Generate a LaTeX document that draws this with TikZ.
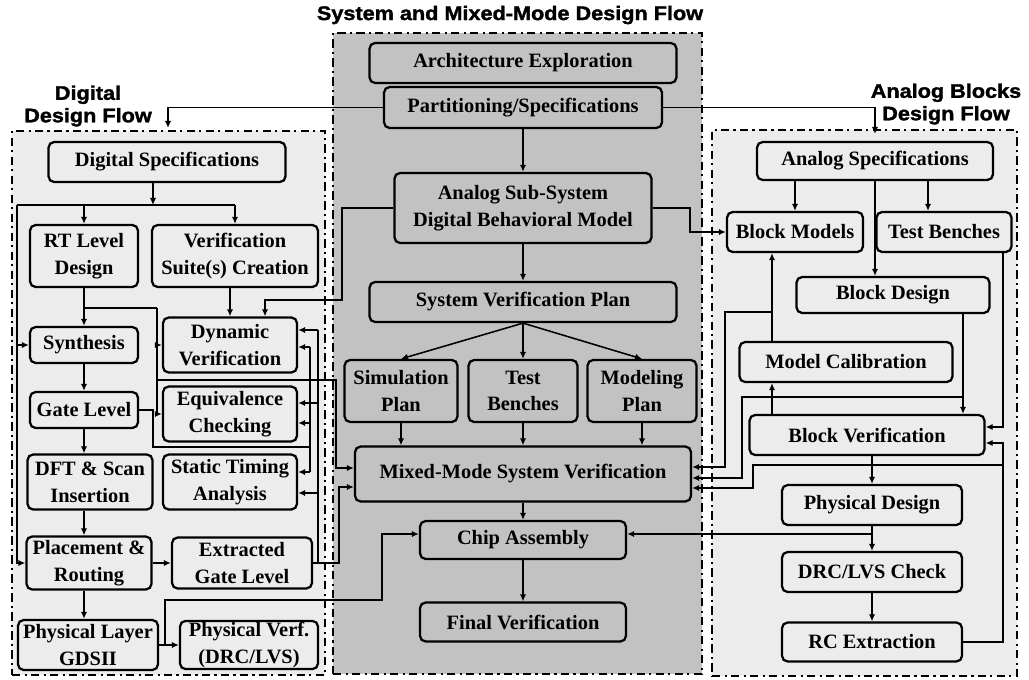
\documentclass[tikz,border=0pt]{standalone}
\usepackage{fontspec}
\setmainfont{Liberation Serif}
\newfontfamily\titlefont{Liberation Sans}[FakeStretch=1.1, BoldFeatures={FakeBold=1.6}]
\usetikzlibrary{arrows.meta, positioning, calc}
\definecolor{PanelDark}{HTML}{C2C2C2}
\definecolor{PanelLight}{HTML}{ECECEC}
\tikzset{
    box/.style={
        draw=black,
        fill=#1,
        line width=1.6pt,
        rounded corners=4pt,
        text=black,
        font=\fontsize{14.5}{19}\selectfont\bfseries,
        align=center,
        inner sep=1pt
    },
    box/.default=PanelLight,
    panel/.style={
        draw=black,
        fill=#1,
        line width=1.8pt,
        dash pattern=on 6pt off 3pt on 1.5pt off 3pt,
        inner sep=0pt
    },
    panel/.default=PanelLight,
    arrow/.style={
        -{Latex[length=5pt,width=4.5pt]},
        line width=1.1pt,
        black
    },
    wire/.style={
        line width=1.1pt,
        black
    },
    flowtitle/.style={
        font=\titlefont\bfseries\fontsize{14}{16}\selectfont,
        align=center
    }
}

\begin{document}
\begin{tikzpicture}
    \useasboundingbox (0,0) rectangle (25.725,-16.975);

    % panels and titles
    \node[panel=PanelLight, minimum width=7.825cm, minimum height=13.6cm] (dig) at (4.2125,-10.075) {};
    \node[panel=PanelDark, minimum width=9.225cm, minimum height=16.025cm] (sys) at (12.9375,-8.8375) {};
    \node[panel=PanelLight, minimum width=7.625cm, minimum height=13.65cm] (ana) at (21.6125,-10.075) {};

    \node[flowtitle] (systitle) at (12.75,-0.375) {System and Mixed-Mode Design Flow};
    \node[flowtitle] (digtitle) at (2.2,-2.65) {Digital\\Design Flow};
    \node[flowtitle] (anatitle) at (23.65,-2.6) {Analog Blocks\\Design Flow};

    % system flow
    \node[box=PanelDark, minimum width=7.675cm, minimum height=1cm] (arch) at (13.075,-1.575) {Architecture Exploration};
    \node[box=PanelDark, minimum width=6.95cm, minimum height=1.025cm] (part) at (13.075,-2.6875) {Partitioning/Specifications};
    \node[box=PanelDark, minimum width=6.425cm, minimum height=1.75cm] (asub) at (13.075,-5.2) {Analog Sub-System\\Digital Behavioral Model};
    \node[box=PanelDark, minimum width=7.675cm, minimum height=1cm] (svp) at (13.075,-7.55) {System Verification Plan};
    \node[box=PanelDark, minimum width=2.825cm, minimum height=1.55cm] (simplan) at (10.025,-9.775) {Simulation\\Plan};
    \node[box=PanelDark, minimum width=2.725cm, minimum height=1.55cm] (tbench) at (13.075,-9.775) {Test\\Benches};
    \node[box=PanelDark, minimum width=2.725cm, minimum height=1.55cm] (modplan) at (16.05,-9.775) {Modeling\\Plan};
    \node[box=PanelDark, minimum width=8.4cm, minimum height=1.375cm] (mmsv) at (13.075,-11.85) {Mixed-Mode System Verification};
    \node[box=PanelDark, minimum width=5.15cm, minimum height=0.95cm] (chip) at (13.075,-13.5) {Chip Assembly};
    \node[box=PanelDark, minimum width=5.15cm, minimum height=0.975cm] (finalv) at (13.075,-15.55) {Final Verification};

    % digital flow
    \node[box, minimum width=5.925cm, minimum height=1cm] (dspec) at (4.175,-4.05) {Digital Specifications};
    \node[box, minimum width=2.7cm, minimum height=1.55cm] (rtl) at (2.1,-6.4) {RT Level\\Design};
    \node[box, minimum width=4.15cm, minimum height=1.55cm] (vsuite) at (5.875,-6.4) {Verification\\Suite(s) Creation};
    \node[box, minimum width=2.7cm, minimum height=0.9cm] (synth) at (2.1,-8.625) {Synthesis};
    \node[box, minimum width=3.35cm, minimum height=1.375cm] (dynver) at (5.75,-8.625) {Dynamic\\Verification};
    \node[box, minimum width=2.7cm, minimum height=0.9cm] (gate) at (2.1,-10.25) {Gate Level};
    \node[box, minimum width=3.35cm, minimum height=1.375cm] (equiv) at (5.75,-10.35) {Equivalence\\Checking};
    \node[box, minimum width=3.125cm, minimum height=1.375cm] (dft) at (2.25,-12.05) {DFT \& Scan\\Insertion};
    \node[box, minimum width=3.35cm, minimum height=1.375cm] (sta) at (5.75,-12.05) {Static Timing\\Analysis};
    \node[box, minimum width=3.125cm, minimum height=1.325cm] (place) at (2.225,-14.075) {Placement \&\\Routing};
    \node[box, minimum width=3.5cm, minimum height=1.275cm] (extract) at (6.05,-14.075) {Extracted\\Gate Level};
    \node[box, minimum width=3.5cm, minimum height=1.25cm] (gds) at (2.2,-16.125) {Physical Layer\\GDSII};
    \node[box, minimum width=3.45cm, minimum height=1.2cm] (pverf) at (6.225,-16.125) {Physical Verf.\\(DRC/LVS)};

    % analog flow
    \node[box, minimum width=5.9cm, minimum height=0.95cm] (aspec) at (21.875,-4.025) {Analog Specifications};
    \node[box, minimum width=3.4cm, minimum height=1cm] (bmodel) at (19.875,-5.8) {Block Models};
    \node[box, minimum width=3.375cm, minimum height=1cm] (rtbench) at (23.6,-5.8) {Test Benches};
    \node[box, minimum width=4.825cm, minimum height=0.9cm] (bdesign) at (22.325,-7.375) {Block Design};
    \node[box, minimum width=5.325cm, minimum height=1cm] (mcal) at (21.15,-9.05) {Model Calibration};
    \node[box, minimum width=5.875cm, minimum height=1cm] (bverif) at (21.675,-10.875) {Block Verification};
    \node[box, minimum width=4.5cm, minimum height=1cm] (pdesign) at (21.8,-12.625) {Physical Design};
    \node[box, minimum width=4.5cm, minimum height=1cm] (drc) at (21.8,-14.3) {DRC/LVS Check};
    \node[box, minimum width=4.5cm, minimum height=0.975cm] (rcx) at (21.8,-16.05) {RC Extraction};

    % system connections
    \draw[arrow] (part) -- (asub);
    \draw[arrow] (asub) -- (svp);
    \draw[arrow] (svp.south) -- (simplan.north);
    \draw[arrow] (svp.south) -- (tbench.north);
    \draw[arrow] (svp.south) -- (modplan.north);
    \draw[arrow] (simplan.south) -- (simplan.south |- mmsv.north);
    \draw[arrow] (tbench) -- (mmsv);
    \draw[arrow] (modplan.south) -- (modplan.south |- mmsv.north);
    \draw[arrow] (mmsv) -- (chip);
    \draw[arrow] (chip) -- (finalv);

    \coordinate (digin) at (4.2,-3.2);
    \coordinate (anain) at (21.875,-3.35);
    \draw[arrow] (part.west) -| (digin);
    \draw[arrow] (part.east) -| (anain);

    % digital connections
    \coordinate (dleft) at (0.42,-5.125);
    \coordinate (dtop) at (3.825,-4.55);
    \draw[arrow] (dtop) -- (dtop |- dleft);
    \draw[wire] (dleft) -- (vsuite.north |- dleft);
    \draw[arrow] (rtl.north |- dleft) -- (rtl.north);
    \draw[arrow] (vsuite.north |- dleft) -- (vsuite.north);
    \draw[arrow] (dleft) |- (synth.west);
    \draw[arrow] (dleft) |- (place.west);

    \draw[arrow] (rtl) -- (synth);
    \draw[arrow] (synth) -- (gate);
    \draw[arrow] (gate.south) -- (gate.south |- dft.north);
    \draw[arrow] (dft.south -| gate.south) -- (gate.south |- place.north);
    \draw[arrow] (place.south -| gate.south) -- (gate.south |- gds.north);
    \draw[arrow] (place) -- (extract);
    \draw[arrow] (gds) -- (pverf);
    \draw[arrow] (dynver.north |- vsuite.south) -- (dynver.north);
    \draw[arrow] (asub.west) -| (8.55,-7.5) -| ($(dynver.north)+(0.875,0)$);

    \coordinate (rtlj) at (2.1,-7.7);
    \coordinate (rtlx) at (3.925,-7.7);
    \coordinate (rtlm) at (3.925,-9.5);
    \draw[wire] (rtlj) -- (rtlx);
    \draw[arrow] (rtlx) |- (equiv.west);
    \draw[arrow] (rtlx |- dynver.west) -- (dynver.west);
    \draw[arrow] (rtlm) -| ($(mmsv.west)+(-0.45,0.15)$) -- ($(mmsv.west)+(0,0.15)$);

    \coordinate (gbus) at (7.75,-11.175);
    \draw[wire] (gate.east) -| (3.825,-11.175) -- (gbus);
    \draw[wire] (gbus |- 0,-8.675) -- (gbus |- 0,-11.8);
    \draw[arrow] (gbus |- 0,-8.675) -- (dynver.east |- 0,-8.675);
    \draw[arrow] (gbus |- 0,-10.575) -- (equiv.east |- 0,-10.575);
    \draw[arrow] (gbus |- 0,-11.8) -- (sta.east |- 0,-11.8);

    \coordinate (xbus) at (7.95,-14.075);
    \draw[arrow] (extract.east) -| ($(mmsv.west)+(-0.375,-0.325)$) -- ($(mmsv.west)+(0,-0.325)$);
    \draw[wire] (xbus) -- (xbus |- 0,-8.25);
    \draw[arrow] (xbus |- 0,-8.25) -- (dynver.east |- 0,-8.25);
    \draw[arrow] (xbus |- 0,-10.075) -- (equiv.east |- 0,-10.075);
    \draw[arrow] (xbus |- 0,-12.325) -- (sta.east |- 0,-12.325);

    \coordinate (gdsj) at (4.125,-16.125);
    \draw[arrow] (gdsj) |- (9.55,-15.0) |- ($(chip.west)+(0,0.15)$);

    % analog connections
    \coordinate (tbx) at (23.2,-5.3);
    \draw[arrow] (aspec.south -| bmodel.north) -- (bmodel.north);
    \draw[arrow] (tbx |- aspec.south) -- (tbx |- rtbench.north);
    \draw[arrow] (aspec.south) -- (aspec.south |- bdesign.north);
    \draw[arrow] (asub.east) -| (17.25,-5.8) -- (bmodel.west);

    \coordinate (mcx) at (19.3,-7.8);
    \draw[arrow] (mcal.north -| mcx) -- (bmodel.south -| mcx);
    \draw[arrow] (bverif.north -| mcx) -- (mcal.south -| mcx);
    \draw[arrow] (mcx) -| (18.125,-11.675) -- (mmsv.east |- 0,-11.675);

    \coordinate (bdx) at (24.075,-9.925);
    \draw[arrow] (bdesign.south -| bdx) -- (bverif.north -| bdx);
    \draw[arrow] (bdx) -| (18.55,-11.95) -- (mmsv.east |- 0,-11.95);

    \coordinate (rbx) at (25.075,-11.625);
    \draw[arrow] (rtbench.south -| rbx) |- ($(bverif.east)+(0,0.2)$);
    \draw[arrow] (rcx.east) -| (rbx) |- ($(bverif.east)+(0,-0.2)$);
    \draw[arrow] (rbx) -| (18.825,-12.2) -- (mmsv.east |- 0,-12.2);

    \draw[arrow] (pdesign.north |- bverif.south) -- (pdesign.north);
    \draw[arrow] (pdesign) -- (drc);
    \draw[arrow] (drc) -- (rcx);
    \draw[arrow] (pdesign.south) |- ($(chip.east)+(0,0.15)$);
\end{tikzpicture}
\end{document}
